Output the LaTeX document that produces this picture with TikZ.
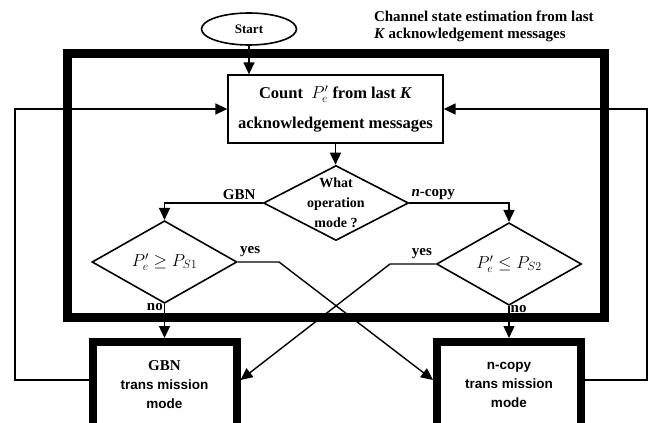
\documentclass[tikz,border=0pt]{standalone}
\usepackage{fontspec}
\setmainfont{Liberation Serif}
\setsansfont{Liberation Sans}
\usetikzlibrary{arrows.meta}
\usetikzlibrary{shapes,shapes.geometric,positioning}
\usepackage{amsmath}

\begin{document}
\begin{tikzpicture}[x=1pt,y=-1pt,>={Triangle[length=12pt,width=11pt]},line width=1.4pt,
  txt/.style={font=\bfseries\fontsize{15}{17}\selectfont},
  small/.style={font=\bfseries\fontsize{14}{20}\selectfont},
  startnode/.style={ellipse,draw,line width=1.6pt,minimum width=95pt,minimum height=32pt,inner sep=0pt,
    font=\bfseries\fontsize{13}{15}\selectfont},
  countbox/.style={rectangle,draw,line width=1.3pt,minimum width=215pt,minimum height=68pt,align=center,
    font=\bfseries\fontsize{16.5}{18}\selectfont},
  decision/.style={diamond,draw,line width=1.6pt,minimum width=145pt,minimum height=75pt,inner sep=0pt},
  formula/.style={font=\fontsize{17}{20}\selectfont},
  modebox/.style={rectangle,draw,line width=8pt,minimum width=144pt,minimum height=86pt,align=center,
    font=\sffamily\bfseries\fontsize{13.5}{19}\selectfont},
  lbl/.style={txt,inner sep=1pt}]
\useasboundingbox (0,0) rectangle (649,423);
\clip (0,0) rectangle (649,423);

\node[startnode] (start) at (249,29) {Start};
\node[txt,anchor=north west,align=left] (title) at (370,7) {Channel state estimation from last\\\textit{K} acknowledgement messages};

% estimation block
\draw[line width=9pt] (67,53) rectangle (604,317);
\node[countbox] (count) at (335.5,109) {Count \ $P'_e$ from last \textit{K}\\[12pt]acknowledgement messages};
\node[decision] (mode) at (336,203) {};
\node[small,align=center] (modetxt) at (mode.center) {What\\operation\\mode ?};
\node[decision,formula] (lcheck) at (164.5,262) {$P'_e \geq P_{S1}$};
\node[decision,formula] (rcheck) at (509,264) {$P'_e \leq P_{S2}$};

% transmission modes
\node[modebox] (gbn) at (164.5,385) {{\rmfamily\fontsize{15}{19}\selectfont GBN}\\trans mission\\mode};
\node[modebox] (ncopy) at (509,385) {n-copy\\trans mission\\mode};

\coordinate (lbend) at (279,262);
\coordinate (rbend) at (390,264);
\coordinate (lloop) at (15,109);
\coordinate (rloop) at (647,109);

\draw[->] (start.south) -- (start.south |- count.north);
\draw[->] (count.south) -- (count.south |- mode.north);
\draw[->] (mode.west) -| (lcheck.north) node[lbl,pos=0.12,above=2pt] {GBN};
\draw[->] (mode.east) -| (rcheck.north) node[lbl,pos=0.12,above=2pt] {\textit{n}-copy};
\draw[->] (lcheck.south) -- (gbn.north) node[lbl,pos=0.1,left] {no};
\draw[->] (rcheck.south) -- (ncopy.north) node[lbl,pos=0.1,right] {no};
\draw[->] (lcheck.east) -- (lbend) node[lbl,pos=0.3,above=4pt] {yes} -- ([yshift=5pt]ncopy.west);
\draw[->] (rcheck.west) -- (rbend) node[lbl,pos=0.3,above=4pt] {yes} -- ([yshift=5pt]gbn.east);
\draw[->] ([yshift=5pt]gbn.west) -| (lloop) -- (count.west);
\draw[->] ([yshift=5pt]ncopy.east) -| (rloop) -- (count.east);
\end{tikzpicture}
\end{document}
